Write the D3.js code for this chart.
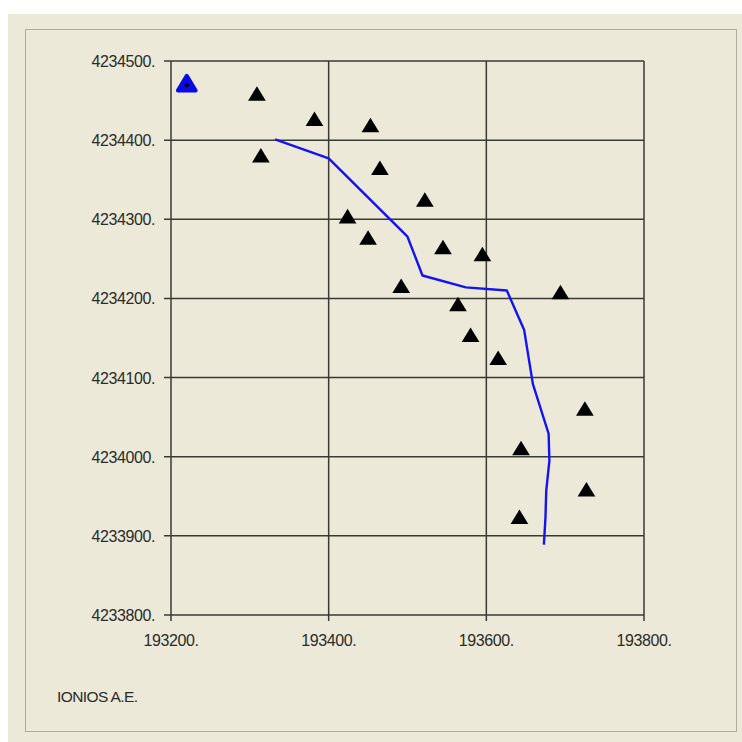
<!DOCTYPE html>
<html>
<head>
<meta charset="utf-8">
<script src="https://cdn.jsdelivr.net/npm/d3@7"></script>
<style>
html,body{margin:0;padding:0;background:#ffffff;}
svg{display:block;}
text{font-family:"Liberation Sans",Arial,sans-serif;}
</style>
</head>
<body>
<svg id="chart" width="742" height="742"></svg>
<script>
// ---- data ----
const xTicks = [193200, 193400, 193600, 193800];
const yTicks = [4233800, 4233900, 4234000, 4234100, 4234200, 4234300, 4234400, 4234500];
const stationX = [193309, 193314, 193382, 193453, 193465, 193424, 193522, 193450, 193545, 193595,
                  193492, 193564, 193580, 193694, 193615, 193725, 193644, 193727, 193642];
const stationY = [4234459, 4234381, 4234427, 4234419, 4234365, 4234304, 4234325, 4234277, 4234265, 4234256,
                  4234216, 4234193, 4234154, 4234208, 4234125, 4234061, 4234011, 4233959, 4233924];
const refX = [193220];
const refY = [4234472];
const lineX = [193332, 193400, 193500, 193519, 193574, 193626, 193648, 193659, 193679, 193680, 193676, 193675, 193673];
const lineY = [4234401, 4234377, 4234278, 4234229, 4234214, 4234210, 4234160, 4234092, 4234029, 4233995, 4233957, 4233923, 4233889];
const footerText = "IONIOS A.E.";

// ---- drawing ----
const svg = d3.select("#chart");
svg.append("rect").attr("x", 8).attr("y", 14).attr("width", 734).attr("height", 728).attr("fill", "#ECE9D8");
svg.append("rect").attr("x", 25.5).attr("y", 29.5).attr("width", 711).attr("height", 702)
  .attr("fill", "none").attr("stroke", "#6e6e6e").attr("stroke-width", 1).attr("stroke-dasharray", "1,1");

const x = d3.scaleLinear().domain([193200, 193800]).range([171, 644]);
const y = d3.scaleLinear().domain([4233800, 4234500]).range([615, 61]);

const gridColor = "#3a3a34";
const g = svg.append("g");
// vertical grid lines + ticks
g.selectAll(".vg").data(xTicks).join("line")
  .attr("x1", d => x(d)).attr("x2", d => x(d))
  .attr("y1", y(4234500)).attr("y2", y(4233800) + 6)
  .attr("stroke", gridColor).attr("stroke-width", 1.5);
// horizontal grid lines + ticks
g.selectAll(".hg").data(yTicks).join("line")
  .attr("y1", d => y(d)).attr("y2", d => y(d))
  .attr("x1", x(193200) - 7).attr("x2", x(193800))
  .attr("stroke", gridColor).attr("stroke-width", 1.5);

// tick labels
g.selectAll(".xl").data(xTicks).join("text")
  .attr("x", d => x(d)).attr("y", y(4233800) + 31)
  .attr("text-anchor", "middle").attr("font-size", 16).attr("letter-spacing", "-0.4")
  .attr("fill", "#2b2b2b").text(d => d + ".");
g.selectAll(".yl").data(yTicks).join("text")
  .attr("x", x(193200) - 16).attr("y", d => y(d) + 6)
  .attr("text-anchor", "end").attr("font-size", 16).attr("letter-spacing", "-0.4")
  .attr("fill", "#2b2b2b").text(d => d + ".");

// path line
const pts = lineX.map((v, i) => [v, lineY[i]]);
svg.append("path").datum(pts)
  .attr("d", d3.line().x(d => x(d[0])).y(d => y(d[1])))
  .attr("fill", "none").attr("stroke", "#1414f0").attr("stroke-width", 2.4).attr("stroke-linejoin", "round");

// triangle symbol centred at mid-height
const tri = {
  draw(ctx, size) {
    const w = Math.sqrt(size) * 1.12, h = w * 0.82;
    ctx.moveTo(0, -h / 2);
    ctx.lineTo(w / 2, h / 2);
    ctx.lineTo(-w / 2, h / 2);
    ctx.closePath();
  }
};
const stations = stationX.map((v, i) => [v, stationY[i]]);
svg.selectAll(".st").data(stations).join("path")
  .attr("transform", d => `translate(${x(d[0])},${y(d[1])})`)
  .attr("d", d3.symbol().type(tri).size(250))
  .attr("fill", "#000");

// reference (blue) triangle
const refs = refX.map((v, i) => [v, refY[i]]);
svg.selectAll(".rf").data(refs).join("path")
  .attr("transform", d => `translate(${x(d[0])},${y(d[1])})`)
  .attr("d", d3.symbol().type(tri).size(250))
  .attr("fill", "#0a0ae6").attr("stroke", "#0a0ae6").attr("stroke-width", 4).attr("stroke-linejoin", "round");
svg.selectAll(".rfd").data(refs).join("circle")
  .attr("cx", d => x(d[0])).attr("cy", d => y(d[1]) + 2).attr("r", 2.2).attr("fill", "#000");

svg.append("text").attr("x", 57).attr("y", 702).attr("font-size", 15.5).attr("letter-spacing", "-0.6")
  .attr("fill", "#2b2b2b").text(footerText);
</script>
</body>
</html>
